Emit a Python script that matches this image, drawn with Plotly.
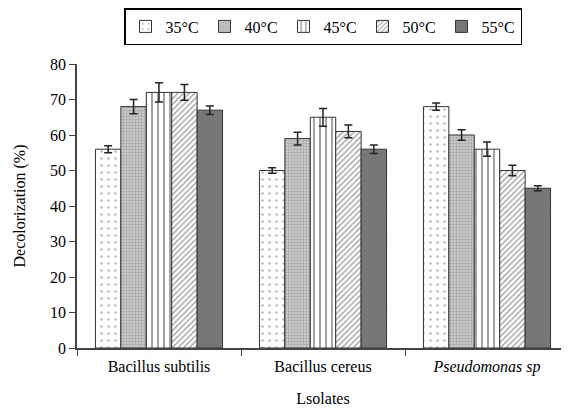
import plotly.graph_objects as go

categories = ["Bacillus subtilis", "Bacillus cereus", "<i>Pseudomonas sp</i>"]
series_names = ["35°C", "40°C", "45°C", "50°C", "55°C"]
values = {
    "35°C": [56, 50, 68],
    "40°C": [68, 59, 60],
    "45°C": [72, 65, 56],
    "50°C": [72, 61, 50],
    "55°C": [67, 56, 45],
}
errors = {
    "35°C": [1.0, 0.8, 1.0],
    "40°C": [2.0, 1.8, 1.5],
    "45°C": [2.7, 2.5, 2.0],
    "50°C": [2.2, 1.8, 1.5],
    "55°C": [1.2, 1.2, 0.7],
}
y_ticks = [0, 10, 20, 30, 40, 50, 60, 70, 80]

styles = {
    "35°C": dict(bg="white", fg="#777777", shape=".", size=7, sol=0.12),
    "40°C": dict(bg="#c8c8c8", fg="#777777", shape="+", size=3, sol=0.3),
    "45°C": dict(bg="white", fg="#333333", shape="|", size=6, sol=0.3),
    "50°C": dict(bg="white", fg="#444444", shape="/", size=4, sol=0.35),
    "55°C": dict(bg="#7a7a7a", fg="#5e5e5e", shape="x", size=3, sol=0.3),
}

FONT = "Times New Roman, Liberation Serif, serif"

fig = go.Figure()
for name in series_names:
    s = styles[name]
    fig.add_trace(go.Bar(
        name=name,
        x=categories,
        y=values[name],
        marker=dict(
            color=s["bg"],
            line=dict(color="#333333", width=1),
            pattern=dict(shape=s["shape"], fgcolor=s["fg"], bgcolor=s["bg"],
                         size=s["size"], solidity=s["sol"], fillmode="overlay"),
        ),
        error_y=dict(type="data", array=errors[name], color="#222222",
                     thickness=1.5, width=4),
    ))

# page body has an 8px margin, so the figure is sized/offset to compensate
fig.update_layout(
    width=561, height=402,
    margin=dict(l=69, r=0, t=56, b=62, autoexpand=False),
    paper_bgcolor="white", plot_bgcolor="white",
    barmode="group", bargap=0.225, bargroupgap=0,
    font=dict(family=FONT, size=16, color="black"),
    showlegend=True,
    legend=dict(orientation="h", x=0.5, xanchor="center", y=1.0, yanchor="top",
                yref="container", bordercolor="black", borderwidth=1.5,
                font=dict(size=16, family=FONT), itemwidth=30,
                entrywidth=34, entrywidthmode="pixels",
                traceorder="normal", tracegroupgap=0),
    xaxis=dict(
        type="category", range=[-0.5, 2.5],
        showline=True, linecolor="#444444", linewidth=1.5,
        ticks="outside", tickson="boundaries", ticklen=6, tickcolor="#444444",
        ticklabelstandoff=3,
        tickfont=dict(size=16, family=FONT),
        title=dict(text="Lsolates", font=dict(size=16, family=FONT), standoff=18),
    ),
    yaxis=dict(
        range=[0, 80], tickvals=y_ticks, showgrid=False, zeroline=False,
        showline=True, linecolor="#444444", linewidth=1.5,
        ticks="outside", ticklen=6, tickcolor="#444444",
        tickfont=dict(size=16, family=FONT),
        title=dict(text="Decolorization (%)", font=dict(size=16, family=FONT), standoff=20),
    ),
)

fig.write_html("out.html")
